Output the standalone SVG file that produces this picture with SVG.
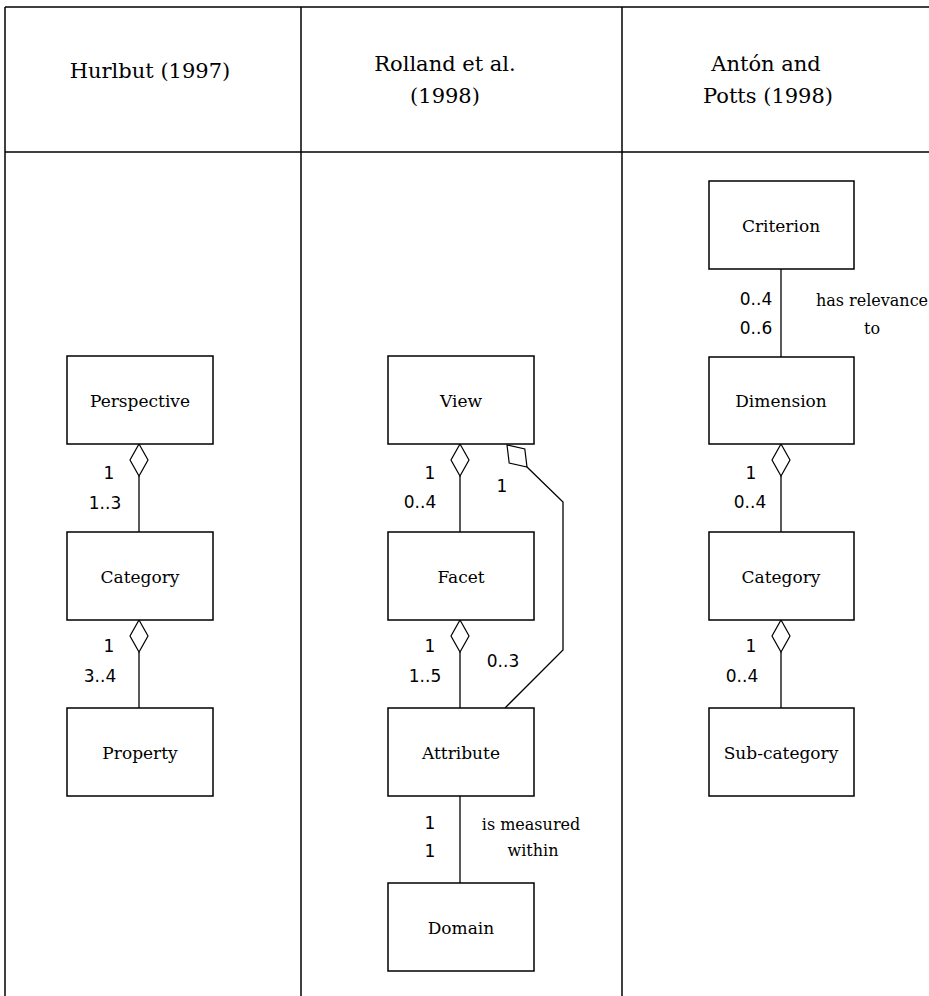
<svg xmlns="http://www.w3.org/2000/svg" width="929" height="996" viewBox="0 0 929 996">
  <style>
    .grid { stroke: #000; stroke-width: 1.5; fill: none; }
    .box { fill: #fff; stroke: #000; stroke-width: 1.5; }
    .link { stroke: #000; stroke-width: 1.3; fill: none; }
    .agg { fill: #fff; stroke: #000; stroke-width: 1.2; }
    .head { font-family: "DejaVu Serif", "Liberation Serif", serif; font-size: 21px; text-anchor: middle; fill: #000; }
    .lbl { font-family: "DejaVu Serif", "Liberation Serif", serif; font-size: 17px; text-anchor: middle; fill: #000; }
    .role { font-family: "DejaVu Serif", "Liberation Serif", serif; font-size: 16px; text-anchor: middle; fill: #000; }
    .num { font-family: "DejaVu Sans", "Liberation Sans", sans-serif; font-size: 17px; text-anchor: middle; fill: #000; }
  </style>
  <rect width="929" height="996" fill="#fff"/>

  <!-- table frame -->
  <g id="table">
    <line class="grid" x1="5" y1="7" x2="929" y2="7"/>
    <line class="grid" x1="5" y1="152" x2="929" y2="152"/>
    <line class="grid" x1="5" y1="7" x2="5" y2="996"/>
    <line class="grid" x1="301" y1="7" x2="301" y2="996"/>
    <line class="grid" x1="622" y1="7" x2="622" y2="996"/>
    <text class="head" x="150" y="78">Hurlbut (1997)</text>
    <text class="head" x="445" y="71">Rolland et al.</text>
    <text class="head" x="445" y="103">(1998)</text>
    <text class="head" x="766" y="71">Antón and</text>
    <text class="head" x="768" y="103">Potts (1998)</text>
  </g>

  <!-- connectors -->
  <g id="connectors">
    <!-- Hurlbut -->
    <line class="link" x1="139" y1="476" x2="139" y2="532"/>
    <polygon class="agg" points="139,444 148,460 139,476 130,460"/>
    <line class="link" x1="139" y1="652" x2="139" y2="708"/>
    <polygon class="agg" points="139,620 148,636 139,652 130,636"/>
    <!-- Rolland -->
    <line class="link" x1="460" y1="476" x2="460" y2="532"/>
    <polygon class="agg" points="460,444 469,460 460,476 451,460"/>
    <line class="link" x1="460" y1="652" x2="460" y2="708"/>
    <polygon class="agg" points="460,620 469,636 460,652 451,636"/>
    <polyline class="link" points="527,467 563,502 563,650 505,708"/>
    <polygon class="agg" points="507,445 524.8,448.9 527,467 509.2,463.1"/>
    <line class="link" x1="460" y1="796" x2="460" y2="883"/>
    <!-- Anton and Potts -->
    <line class="link" x1="781" y1="269" x2="781" y2="357"/>
    <line class="link" x1="781" y1="476" x2="781" y2="532"/>
    <polygon class="agg" points="781,444 790,460 781,476 772,460"/>
    <line class="link" x1="781" y1="652" x2="781" y2="708"/>
    <polygon class="agg" points="781,620 790,636 781,652 772,636"/>
  </g>

  <!-- multiplicities and role names -->
  <g id="labels">
    <text class="num" x="109" y="479">1</text>
    <text class="num" x="105" y="509">1..3</text>
    <text class="num" x="109" y="652">1</text>
    <text class="num" x="100" y="682">3..4</text>

    <text class="num" x="430" y="479">1</text>
    <text class="num" x="420" y="508">0..4</text>
    <text class="num" x="502" y="492">1</text>
    <text class="num" x="430" y="652">1</text>
    <text class="num" x="425" y="682">1..5</text>
    <text class="num" x="503" y="667">0..3</text>
    <text class="num" x="430" y="829">1</text>
    <text class="num" x="430" y="857">1</text>
    <text class="role" x="531" y="830">is measured</text>
    <text class="role" x="533" y="856">within</text>

    <text class="num" x="756" y="305">0..4</text>
    <text class="num" x="756" y="334">0..6</text>
    <text class="role" x="872" y="306">has relevance</text>
    <text class="role" x="872" y="334">to</text>
    <text class="num" x="751" y="479">1</text>
    <text class="num" x="750" y="508">0..4</text>
    <text class="num" x="751" y="652">1</text>
    <text class="num" x="742" y="682">0..4</text>
  </g>

  <!-- Hurlbut nodes -->
  <g id="h-perspective"><rect class="box" x="67" y="356" width="146" height="88"/><text class="lbl" x="140" y="407">Perspective</text></g>
  <g id="h-category"><rect class="box" x="67" y="532" width="146" height="88"/><text class="lbl" x="140" y="583">Category</text></g>
  <g id="h-property"><rect class="box" x="67" y="708" width="146" height="88"/><text class="lbl" x="140" y="759">Property</text></g>

  <!-- Rolland nodes -->
  <g id="r-view"><rect class="box" x="388" y="356" width="146" height="88"/><text class="lbl" x="461" y="407">View</text></g>
  <g id="r-facet"><rect class="box" x="388" y="532" width="146" height="88"/><text class="lbl" x="461" y="583">Facet</text></g>
  <g id="r-attribute"><rect class="box" x="388" y="708" width="146" height="88"/><text class="lbl" x="461" y="759">Attribute</text></g>
  <g id="r-domain"><rect class="box" x="388" y="883" width="146" height="88"/><text class="lbl" x="461" y="934">Domain</text></g>

  <!-- Anton and Potts nodes -->
  <g id="a-criterion"><rect class="box" x="709" y="181" width="145" height="88"/><text class="lbl" x="781" y="232">Criterion</text></g>
  <g id="a-dimension"><rect class="box" x="709" y="357" width="145" height="87"/><text class="lbl" x="781" y="407">Dimension</text></g>
  <g id="a-category"><rect class="box" x="709" y="532" width="145" height="88"/><text class="lbl" x="781" y="583">Category</text></g>
  <g id="a-subcategory"><rect class="box" x="709" y="708" width="145" height="88"/><text class="lbl" x="781" y="759">Sub-category</text></g>
</svg>
